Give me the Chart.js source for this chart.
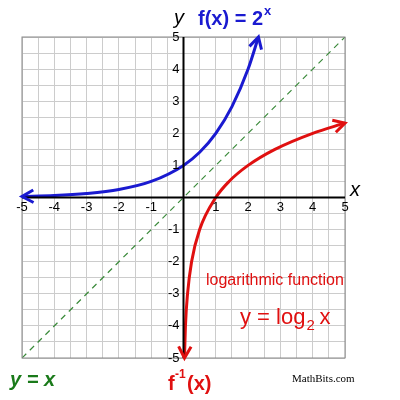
<!DOCTYPE html><html><head><script src="https://cdn.jsdelivr.net/npm/chart.js"></script>
<style>body{margin:0;background:#fff}#w{width:400px;height:400px}</style></head><body><div id="w"><canvas id="c"></canvas></div>
<script>
const tickValues=[-5,-4,-3,-2,-1,1,2,3,4,5];
const expX=[-5,-4,-3,-2,-1,0,0.5,1,1.5,2,2.32];
const expY=[0.03,0.06,0.125,0.25,0.5,1,1.41,2,2.83,4,5];
const logX=[0.03,0.06,0.125,0.25,0.5,1,1.41,2,2.83,4,5];
const logY=[-5,-4,-3,-2,-1,0,0.5,1,1.5,2,2.32];
const idX=[-5,5], idY=[-5,5];
const pts=(a,b)=>a.map((v,i)=>({x:v,y:b[i]}));
function arrow(ctx,x1,y1,x2,y2,col){const a=Math.atan2(y2-y1,x2-x1),L=13;ctx.save();ctx.strokeStyle=col;ctx.lineWidth=3;ctx.beginPath();
ctx.moveTo(x2-L*Math.cos(a-0.5),y2-L*Math.sin(a-0.5));ctx.lineTo(x2,y2);ctx.lineTo(x2-L*Math.cos(a+0.5),y2-L*Math.sin(a+0.5));ctx.stroke();ctx.restore();}
const deco={id:'deco',afterDatasetsDraw(ch){const c=ch.ctx,X=ch.scales.x,Y=ch.scales.y,a=ch.chartArea;
c.save();c.strokeStyle='#888';c.lineWidth=1;c.strokeRect(a.left,a.top,a.right-a.left,a.bottom-a.top);
c.strokeStyle='#000';c.lineWidth=2;const x0=X.getPixelForValue(0),y0=Y.getPixelForValue(0);
c.beginPath();c.moveTo(a.left,y0);c.lineTo(a.right,y0);c.moveTo(x0,a.top);c.lineTo(x0,a.bottom);c.stroke();
c.fillStyle='#000';c.font='13px Arial';
tickValues.forEach(v=>{c.textAlign='center';c.textBaseline='top';c.fillText(String(v),X.getPixelForValue(v),y0+3);
c.textAlign='right';c.textBaseline='middle';c.fillText(String(v),x0-4,Y.getPixelForValue(v));});
const P=(s,x,y)=>[X.getPixelForValue(x),Y.getPixelForValue(y)];
let p=P(0,-4.6,0.04),q=P(0,-5,0.03);arrow(c,...p,...q,'#1a1ad0');
p=P(0,2.2,4.55);q=P(0,2.32,5);arrow(c,...p,...q,'#1a1ad0');
p=P(0,0.045,-4.55);q=P(0,0.03,-5);arrow(c,...p,...q,'#e01010');
p=P(0,4.6,2.2);q=P(0,5,2.32);arrow(c,...p,...q,'#e01010');
c.textBaseline='alphabetic';c.textAlign='left';
c.font='italic 20px Arial';c.fillText('y',174,24);c.fillText('x',350,196);
c.fillStyle='#1a1ad0';c.font='bold 20px Arial';c.fillText('f(x) = 2',198,25);let w=c.measureText('f(x) = 2').width;c.font='bold 13px Arial';c.fillText('x',198+w+1,15);
c.fillStyle='#e01010';c.font='16px Arial';c.fillText('logarithmic function',206,285);
c.font='22px Arial';c.fillText('y = log',240,324);w=c.measureText('y = log').width;c.font='15px Arial';c.fillText('2',240+w+1,330);c.font='22px Arial';c.fillText('x',240+w+14,324);
c.font='bold 20px Arial';c.fillText('f',168,390);c.font='bold 12px Arial';c.fillText('-1',175,378);c.font='bold 20px Arial';c.fillText('(x)',187,390);
c.fillStyle='#1a7a1a';c.font='bold italic 20px Arial';c.fillText('y = x',10,386);
c.fillStyle='#000';c.font='11px "Liberation Serif"';c.fillText('MathBits.com',292,382);c.restore();}};
new Chart(document.getElementById('c'),{type:'scatter',data:{datasets:[
{data:pts(idX,idY),showLine:true,borderColor:'#3a8a3a',borderWidth:1.2,borderDash:[6,5],pointRadius:0},
{data:pts(expX,expY),showLine:true,borderColor:'#1a1ad0',borderWidth:3,pointRadius:0,tension:0.4,cubicInterpolationMode:'monotone'},
{data:pts(logX,logY),showLine:true,borderColor:'#e01010',borderWidth:3,pointRadius:0,cubicInterpolationMode:'monotone'}]},
options:{responsive:true,maintainAspectRatio:false,animation:false,layout:{padding:{left:22,right:55,top:37,bottom:42}},
plugins:{legend:{display:false},tooltip:{enabled:false}},
scales:{x:{min:-5,max:5,ticks:{display:false,stepSize:0.5},grid:{color:'#ccc',drawTicks:false},border:{display:false}},
y:{min:-5,max:5,ticks:{display:false,stepSize:0.5},grid:{color:'#ccc',drawTicks:false},border:{display:false}}}},plugins:[deco]});
</script></body></html>
